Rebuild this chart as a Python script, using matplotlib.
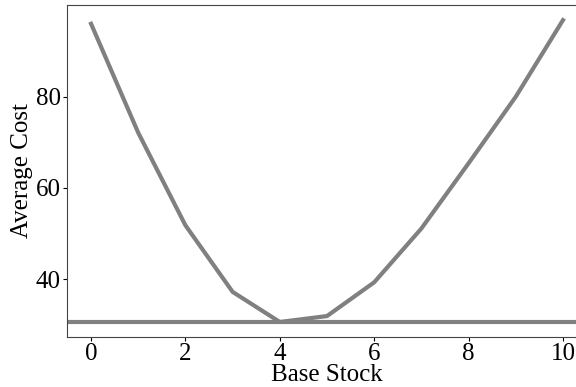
import matplotlib
matplotlib.use('Agg')
import matplotlib.pyplot as plt

# Base stock levels and the average cost at each
base_stock = [0, 1, 2, 3, 4, 5, 6, 7, 8, 9, 10]
avg_cost = [96.0, 72.1, 51.8, 37.2, 30.6, 31.9, 39.3, 51.1, 65.4, 80.0, 96.8]
min_cost = 30.6

plt.rcParams['font.family'] = ['Liberation Serif', 'DejaVu Serif']
plt.rcParams['font.size'] = 18

fig = plt.figure(figsize=(5.76, 3.87), dpi=100)
ax = fig.add_axes([0.1163, 0.129, 0.902, 0.858])

ax.plot(base_stock, avg_cost, color='gray', lw=3)
ax.axhline(min_cost, color='gray', lw=3)

ax.set_xlabel('Base Stock', labelpad=-1)
ax.set_ylabel('Average Cost', labelpad=2)
ax.set_xticks([0, 2, 4, 6, 8, 10])
ax.set_yticks([40, 60, 80])
ax.set_xlim(-0.51, 10.5)
ax.tick_params(length=3, pad=1.5)

for s in ax.spines.values():
    s.set_color('#444444')

fig.savefig('out.png', dpi=100)
